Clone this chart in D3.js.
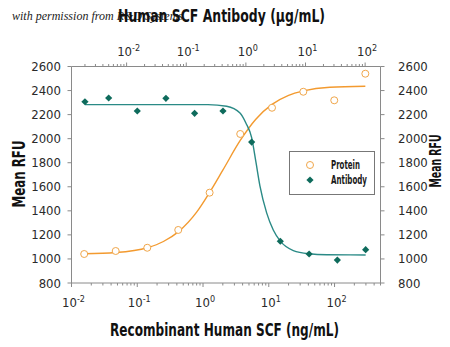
<!DOCTYPE html>
<html><head><meta charset="utf-8">
<script src="https://cdn.jsdelivr.net/npm/d3@7"></script>
<style>
html,body{margin:0;padding:0;background:#fff;}
svg text{font-family:'Liberation Sans Narrow','DejaVu Sans Condensed','Roboto Condensed',sans-serif;}
</style></head>
<body><svg id="c" width="450" height="347"></svg>
<script>
// Protein: Recombinant Human SCF (ng/mL) vs Mean RFU
const proteinConc = [0.0156, 0.047, 0.142, 0.42, 1.26, 3.68, 11.2, 33.5, 99, 294];
const proteinRFU  = [1041, 1066, 1093, 1241, 1551, 2039, 2257, 2390, 2319, 2540];
// Antibody: Human SCF Antibody (µg/mL) vs Mean RFU
const antibodyConc = [0.0020, 0.0050, 0.0151, 0.0456, 0.138, 0.413, 1.25, 3.78, 11.5, 34.2, 102];
const antibodyRFU  = [2307, 2338, 2230, 2335, 2211, 2230, 1972, 1147, 1041, 991, 1077];
// fitted curves
const proteinFitConc = [0.0156, 0.047, 0.142, 0.25, 0.42, 0.8, 1.26, 2.0, 3.68, 6.3, 11.2, 20, 33.5, 85, 294];
const proteinFitRFU  = [1043, 1053, 1093, 1145, 1225, 1389, 1553, 1738, 1985, 2160, 2285, 2360, 2397, 2428, 2436];
const antibodyFitConc = [0.0020, 0.231, 0.476, 0.797, 1.0, 1.25, 1.48, 1.72, 2.23, 2.88, 3.78, 6.24, 11.5, 22.7, 102];
const antibodyFitRFU  = [2283, 2283, 2270, 2213, 2130, 2008, 1800, 1608, 1383, 1241, 1148, 1070, 1043, 1035, 1033];
const yTicks = [800, 1000, 1200, 1400, 1600, 1800, 2000, 2200, 2400, 2600];
const xMajorExp = [-2, -1, 0, 1, 2];
const seriesNames = ["Protein", "Antibody"];

const svg = d3.select("#c");
const L = 71.5, R = 380.5, T = 66.5, B = 283;
const x = d3.scaleLog().domain([0.01, 500]).range([L, R]);
const xTop = d3.scaleLog().domain([0.00119, 181]).range([L, R]);
const y = d3.scaleLinear().domain([800, 2600]).range([B, T]);

const axisColor = "#8a8a8a", labelColor = "#2a2a2a";
const orange = "#F39A2F", teal = "#2A8A86", tealDark = "#0E6B5C";

function minorTicks(scale) {
  const [d0, d1] = scale.domain();
  const out = [];
  for (let e = Math.floor(Math.log10(d0)); e <= Math.ceil(Math.log10(d1)); e++) {
    for (let m = 1; m <= 9; m++) {
      const v = m * Math.pow(10, e);
      if (v >= d0 * 0.999 && v <= d1 * 1.001) out.push({v, major: m === 1});
    }
  }
  return out;
}
const g = svg.append("g");
// frame lines
g.append("line").attr("x1", L).attr("x2", R).attr("y1", B).attr("y2", B).attr("stroke", axisColor);
g.append("line").attr("x1", L).attr("x2", R).attr("y1", T).attr("y2", T).attr("stroke", axisColor);
g.append("line").attr("x1", L).attr("x2", L).attr("y1", T).attr("y2", B).attr("stroke", axisColor);
g.append("line").attr("x1", R).attr("x2", R).attr("y1", T).attr("y2", B).attr("stroke", axisColor);

// bottom / top ticks
minorTicks(x).forEach(t => {
  g.append("line").attr("x1", x(t.v)).attr("x2", x(t.v)).attr("y1", B).attr("y2", B + (t.major ? 4 : 2.5))
    .attr("stroke", axisColor);
});
minorTicks(xTop).forEach(t => {
  g.append("line").attr("x1", xTop(t.v)).attr("x2", xTop(t.v)).attr("y1", T).attr("y2", T - (t.major ? 4 : 2.5))
    .attr("stroke", axisColor);
});
function powLabel(sel, px, py, e) {
  const t = sel.append("text").attr("x", px).attr("y", py).attr("text-anchor", "middle")
    .attr("fill", labelColor).attr("font-size", 13);
  t.append("tspan").text("10");
  t.append("tspan").attr("dy", -5).attr("font-size", 9).text(String(e));
}
xMajorExp.forEach(e => {
  powLabel(g, x(Math.pow(10, e)) + 2, 307, e);
  powLabel(g, xTop(Math.pow(10, e)) + 2, 56, e);
});
// y ticks
yTicks.forEach(v => {
  g.append("line").attr("x1", L - 4).attr("x2", L).attr("y1", y(v)).attr("y2", y(v)).attr("stroke", axisColor);
  g.append("line").attr("x1", R).attr("x2", R + 4).attr("y1", y(v)).attr("y2", y(v)).attr("stroke", axisColor);
  g.append("text").attr("x", 61).attr("y", y(v) + 4.5).attr("text-anchor", "end")
    .attr("fill", labelColor).attr("font-size", 13).text(v);
  g.append("text").attr("x", 398).attr("y", y(v) + 4.5).attr("text-anchor", "start")
    .attr("fill", labelColor).attr("font-size", 13).text(v);
});

// curves
const pLine = d3.line().x(d => x(d[0])).y(d => y(d[1])).curve(d3.curveMonotoneX);
const aLine = d3.line().x(d => xTop(d[0])).y(d => y(d[1])).curve(d3.curveMonotoneX);
svg.append("path").attr("d", pLine(d3.zip(proteinFitConc, proteinFitRFU)))
  .attr("fill", "none").attr("stroke", orange).attr("stroke-width", 1.4);
svg.append("path").attr("d", aLine(d3.zip(antibodyFitConc, antibodyFitRFU)))
  .attr("fill", "none").attr("stroke", teal).attr("stroke-width", 1.4);

// points
svg.selectAll("circle.p").data(d3.zip(proteinConc, proteinRFU)).join("circle")
  .attr("cx", d => x(d[0])).attr("cy", d => y(d[1])).attr("r", 3.5)
  .attr("fill", "#fff").attr("stroke", "#F0A64A").attr("stroke-width", 1);
const diamond = d3.symbol(d3.symbolSquare, 26);
svg.selectAll("path.a").data(d3.zip(antibodyConc, antibodyRFU)).join("path")
  .attr("d", diamond)
  .attr("transform", d => `translate(${xTop(d[0])},${y(d[1])}) rotate(45)`)
  .attr("fill", tealDark);

// legend
const lg = svg.append("g");
lg.append("rect").attr("x", 289.5).attr("y", 151.5).attr("width", 85).attr("height", 43)
  .attr("fill", "#fff").attr("stroke", "#777").attr("stroke-width", 1);
lg.append("circle").attr("cx", 310).attr("cy", 165).attr("r", 3.5)
  .attr("fill", "#fff").attr("stroke", "#F0A64A");
lg.append("path").attr("d", diamond).attr("transform", "translate(310,180) rotate(45)").attr("fill", tealDark);
lg.append("text").attr("x", 331).attr("y", 169).attr("font-size", 12).attr("font-weight", "bold")
  .attr("fill", "#1a1a1a").attr("textLength", 29).attr("lengthAdjust", "spacingAndGlyphs").text(seriesNames[0]);
lg.append("text").attr("x", 331).attr("y", 184).attr("font-size", 12).attr("font-weight", "bold")
  .attr("fill", "#1a1a1a").attr("textLength", 36).attr("lengthAdjust", "spacingAndGlyphs").text(seriesNames[1]);

// titles
svg.append("text").attr("x", 12).attr("y", 20).attr("font-size", 12)
  .style("font-family", "'Liberation Serif','DejaVu Serif',serif").attr("font-style", "italic")
  .attr("fill", "#222").attr("textLength", 171).attr("lengthAdjust", "spacingAndGlyphs")
  .text("with permission from R&D Systems");
svg.append("text").attr("x", 221.5).attr("y", 22).attr("text-anchor", "middle").attr("font-size", 18)
  .attr("font-weight", "bold").attr("fill", "#111").attr("textLength", 207).attr("lengthAdjust", "spacingAndGlyphs")
  .text("Human SCF Antibody (\u03bcg/mL)");
svg.append("text").attr("x", 224.5).attr("y", 336).attr("text-anchor", "middle").attr("font-size", 18)
  .attr("font-weight", "bold").attr("fill", "#111").attr("textLength", 229).attr("lengthAdjust", "spacingAndGlyphs")
  .text("Recombinant Human SCF (ng/mL)");
svg.append("text").attr("transform", "translate(25,174) rotate(-90)").attr("text-anchor", "middle")
  .attr("font-size", 17).attr("font-weight", "bold").attr("fill", "#111")
  .attr("textLength", 67).attr("lengthAdjust", "spacingAndGlyphs").text("Mean RFU");
svg.append("text").attr("transform", "translate(441,161) rotate(-90)").attr("text-anchor", "middle")
  .attr("font-size", 16).attr("font-weight", "bold").attr("fill", "#111")
  .attr("textLength", 53).attr("lengthAdjust", "spacingAndGlyphs").text("Mean RFU");
</script></body></html>
